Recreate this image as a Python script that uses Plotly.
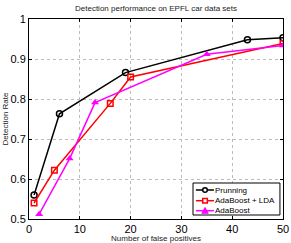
import plotly.graph_objects as go

prun_x = [1, 6, 19, 43, 50]
prun_y = [0.56, 0.763, 0.866, 0.948, 0.953]
lda_x = [1, 5, 16, 20, 50]
lda_y = [0.54, 0.622, 0.789, 0.855, 0.939]
ada_x = [2, 8, 13, 35, 50]
ada_y = [0.512, 0.651, 0.791, 0.912, 0.934]
names = ["Prunning", "AdaBoost + LDA", "AdaBoost"]
colors = ["black", "red", "magenta"]

FONT = "Liberation Sans"

fig = go.Figure()
fig.add_trace(go.Scatter(x=prun_x, y=prun_y, name=names[0], mode="lines+markers",
                         line=dict(color=colors[0], width=1.5),
                         marker=dict(symbol="circle-open", size=6, color=colors[0], line=dict(width=1.5))))
fig.add_trace(go.Scatter(x=lda_x, y=lda_y, name=names[1], mode="lines+markers",
                         line=dict(color=colors[1], width=1.5),
                         marker=dict(symbol="square-open", size=5.5, color=colors[1], line=dict(width=1.5))))
fig.add_trace(go.Scatter(x=ada_x, y=ada_y, name=names[2], mode="lines+markers",
                         line=dict(color=colors[2], width=1.5),
                         marker=dict(symbol="triangle-up", size=7, color=colors[2])))

axis_common = dict(showline=True, linecolor="black", linewidth=1, mirror="ticks",
                   ticks="inside", ticklen=3, tickcolor="black",
                   showgrid=True, gridcolor="#bbbbbb", griddash="dot", gridwidth=1,
                   zeroline=False, automargin=False,
                   tickfont=dict(family=FONT, size=11, color="black"))

# --- manual compact legend (paper coordinates) ---
shapes = []
annotations = []
shapes.append(dict(type="rect", xref="paper", yref="paper", x0=0.6457, x1=0.988, y0=0.02, y1=0.18,
                   line=dict(color="black", width=1), fillcolor="white", layer="above"))
row_y = [0.145, 0.0915, 0.0415]
lx0, lx1, mx, tx = 0.657, 0.728, 0.693, 0.734
dx, dy = 2.3 / 254, 2.3 / 200
for i, (nm, c) in enumerate(zip(names, colors)):
    y = row_y[i]
    shapes.append(dict(type="line", xref="paper", yref="paper", x0=lx0, x1=lx1, y0=y, y1=y,
                       line=dict(color=c, width=1.5), layer="above"))
    if i == 0:
        shapes.append(dict(type="circle", xref="paper", yref="paper", x0=mx - dx, x1=mx + dx,
                           y0=y - dy, y1=y + dy, line=dict(color=c, width=1.5), fillcolor="white", layer="above"))
    elif i == 1:
        shapes.append(dict(type="rect", xref="paper", yref="paper", x0=mx - dx, x1=mx + dx,
                           y0=y - dy, y1=y + dy, line=dict(color=c, width=1.5), fillcolor="white", layer="above"))
    else:
        tdx, tdy = 3.2 / 254, 3.2 / 200
        shapes.append(dict(type="path", xref="paper", yref="paper",
                           path=f"M {mx - tdx} {y - tdy*0.8} L {mx + tdx} {y - tdy*0.8} L {mx} {y + tdy} Z",
                           line=dict(color=c, width=1), fillcolor=c, layer="above"))
    annotations.append(dict(xref="paper", yref="paper", x=tx, y=y, text=nm, showarrow=False,
                            xanchor="left", yanchor="middle", xshift=-2,
                            font=dict(family=FONT, size=8, color="black")))

fig.update_layout(
    width=291, height=243,
    margin=dict(l=29, r=8, t=19, b=24),
    paper_bgcolor="white", plot_bgcolor="white",
    title=dict(text="Detection performance on EPFL car data sets", xref="paper", x=0.5, xanchor="center",
               y=0.967, yanchor="middle", font=dict(family=FONT, size=8, color="#222")),
    xaxis=dict(range=[0, 50], dtick=10,
               title=dict(text="Number of false positives", standoff=0,
                          font=dict(family=FONT, size=8, color="#222")), **axis_common),
    yaxis=dict(range=[0.5, 1], tickvals=[0.5, 0.6, 0.7, 0.8, 0.9, 1.0],
               ticktext=["0.5", "0.6", "0.7", "0.8", "0.9", "1"],
               title=dict(text="Detection Rate", standoff=0,
                          font=dict(family=FONT, size=8, color="#222")), **axis_common),
    showlegend=False,
    hovermode=False,
    shapes=shapes,
    annotations=annotations,
)

fig.write_html("out.html", config={"displayModeBar": False},
               post_script="document.body.style.margin='0';")
